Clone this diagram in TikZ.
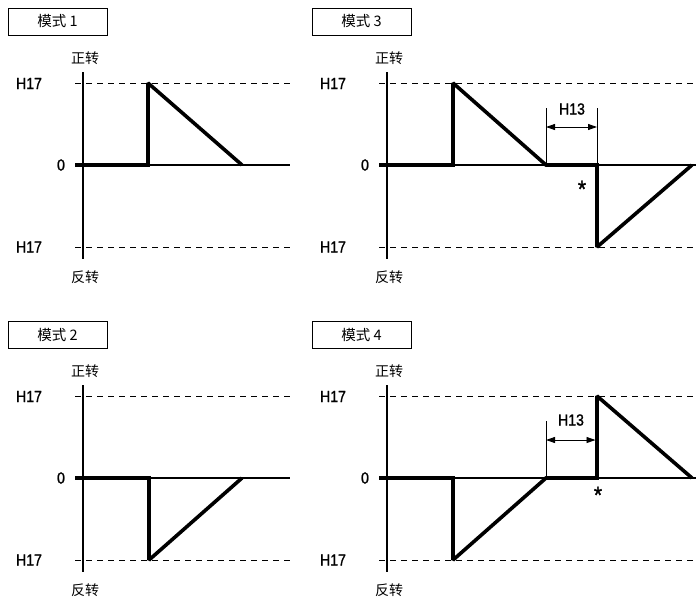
\documentclass[tikz,border=0pt]{standalone}
\usepackage{fontspec}
\newfontfamily\cjk{Noto Sans CJK SC}
\newfontfamily\lbl{Liberation Sans}[FakeStretch=0.88,FakeBold=1.2]
\usetikzlibrary{arrows.meta}

\begin{document}
\begin{tikzpicture}[x=1pt,y=-1pt,
	axis/.style={line width=1.2pt},
	level/.style={line width=0.9pt,dash pattern=on 6pt off 5pt},
	wave/.style={line width=3.6pt,miter limit=2},
	dim/.style={line width=0.9pt},
	tip/.style={{Triangle[length=9pt,width=6pt]}-{Triangle[length=9pt,width=6pt]}},
	tag/.style={draw,line width=0.9pt,minimum width=99pt,minimum height=27pt,inner sep=0pt,font=\cjk\fontsize{14.5}{14.5}\selectfont},
	cn/.style={font=\cjk\fontsize{14}{14}\selectfont,inner sep=0pt},
	val/.style={font=\lbl\fontsize{16}{16}\selectfont,inner sep=0pt}]
	\useasboundingbox (0,0) rectangle (696,598);
	% frames of the four modes
	\foreach \px/\py/\n/\len in {0/0/1/290, 304/0/3/392, 0/313/2/290, 304/313/4/392} {
		\begin{scope}[shift={(\px,\py)}]
			\node[tag] (tag\n) at (57.5,21.5) {模式 \n};
			\node[cn] (fwd\n) at (85,58) {正转};
			\node[cn] (rev\n) at (85,277) {反转};
			\node[val] (hi\n) at (29,83.5) {H17};
			\node[val] (zero\n) at (61,165) {0};
			\node[val] (lo\n) at (29,247) {H17};
			\draw[axis] (83,72) -- (83,259);
			\draw[axis] (75,165) -- (\len,165);
			\draw[level] (75,83) -- (\len,83);
			\draw[level] (75,247) -- (\len,247);
		\end{scope}
	}
	% waveforms
	\draw[wave] (75,165) -- (148,165) -- (148,83) -- (242,165);
	\draw[wave] (75,478) -- (149,478) -- (149,560) -- (242,478);
	\draw[wave] (379,165) -- (453,165) -- (453,83) -- (546,165) -- (597,165) -- (597,247) -- (692,165);
	\draw[wave] (379,478) -- (453,478) -- (453,560) -- (546,478) -- (597,478) -- (597,396) -- (692,478);
	% H13 in mode 3
	\coordinate (a3) at (546,108);
	\coordinate (b3) at (597,108);
	\draw[dim] (a3) -- (546,165);
	\draw[dim] (b3) -- (597,165);
	\draw[dim,tip] (546,127) -- (597,127);
	\node[val] (dwell3) at (572,109) {H13};
	\node[val,font=\lbl\fontsize{24}{24}\selectfont] (star3) at (582,189) {*};
	% H13 in mode 4
	\coordinate (a4) at (546,421);
	\draw[dim] (a4) -- (546,478);
	\draw[dim,tip] (546,440) -- (595.5,440);
	\node[val] (dwell4) at (571,420) {H13};
	\node[val,font=\lbl\fontsize{24}{24}\selectfont] (star4) at (598,495) {*};
\end{tikzpicture}
\end{document}
